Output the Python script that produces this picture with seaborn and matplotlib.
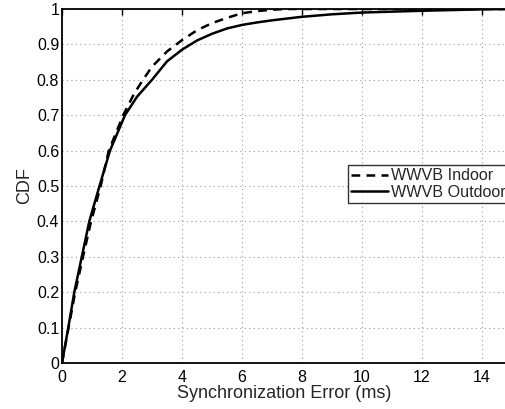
import pandas as pd
import matplotlib
matplotlib.use("Agg")
import matplotlib.pyplot as plt
import seaborn as sns

# CDF curves
indoor_x = [0, 0.22, 0.44, 0.70, 0.97, 1.29, 1.56, 2.04, 2.40, 2.70, 3.0, 3.5, 4.0, 4.5, 5.0, 5.5, 6.0, 6.5, 7.0, 7.5, 8.0, 15.0]
indoor_y = [0, 0.10, 0.20, 0.30, 0.40, 0.50, 0.60, 0.70, 0.76, 0.80, 0.837, 0.88, 0.912, 0.94, 0.96, 0.975, 0.988, 0.994, 0.998, 1.0, 1.0, 1.0]

outdoor_x = [0, 0.21, 0.41, 0.66, 0.91, 1.25, 1.60, 2.10, 2.50, 3.0, 3.5, 4.0, 4.5, 5.0, 5.5, 6.0, 6.5, 7.0, 8.0, 9.0, 10.0, 12.0, 14.0, 15.0]
outdoor_y = [0, 0.10, 0.20, 0.30, 0.40, 0.50, 0.60, 0.70, 0.752, 0.80, 0.852, 0.885, 0.911, 0.930, 0.945, 0.955, 0.962, 0.968, 0.978, 0.985, 0.990, 0.995, 0.999, 1.0]

x_ticks = [0, 2, 4, 6, 8, 10, 12, 14]
y_ticks = [0, 0.1, 0.2, 0.3, 0.4, 0.5, 0.6, 0.7, 0.8, 0.9, 1.0]
y_labels = ["0", "0.1", "0.2", "0.3", "0.4", "0.5", "0.6", "0.7", "0.8", "0.9", "1"]

sns.set_style("white")
plt.rcParams["font.family"] = ["Liberation Sans", "DejaVu Sans"]

fig = plt.figure(figsize=(5.06, 4.09), dpi=100)
ax = fig.add_axes([0.1225, 0.1125, 0.8775, 0.8655])

sns.lineplot(x=indoor_x, y=indoor_y, ax=ax, color="black", linewidth=1.8,
             linestyle=(0, (3.5, 2.5)), label="WWVB Indoor", sort=False)
sns.lineplot(x=outdoor_x, y=outdoor_y, ax=ax, color="black", linewidth=1.8,
             label="WWVB Outdoor", sort=False)
for line in ax.lines:
    line.set_solid_joinstyle("round")
    line.set_dash_joinstyle("round")

ax.set_xlim(0, 14.8)
ax.set_ylim(0, 1)
ax.set_xticks(x_ticks)
ax.set_yticks(y_ticks)
ax.set_yticklabels(y_labels)
ax.grid(True, linestyle=(0, (1, 3)), color="#999999", linewidth=0.8)
ax.tick_params(direction="in", length=4, width=1, labelsize=11.5, top=True,
               colors="black", pad=2)
ax.tick_params(axis="x", pad=5)
for side in ["left", "bottom", "top"]:
    ax.spines[side].set_color("black")
    ax.spines[side].set_linewidth(1.3)
ax.spines["right"].set_visible(False)

ax.set_xlabel("Synchronization Error (ms)", fontsize=13, labelpad=0)
ax.set_ylabel("CDF", fontsize=13, labelpad=3)

leg = ax.legend(loc="upper right", bbox_to_anchor=(1.006, (409 - 165) / 409),
                bbox_transform=fig.transFigure, fontsize=11.6, frameon=True,
                fancybox=False, handlelength=2.3, handletextpad=0.2,
                borderpad=0.2, labelspacing=0.1, borderaxespad=0)
leg.get_frame().set_edgecolor("black")
leg.get_frame().set_linewidth(1.0)

fig.savefig("out.png", dpi=100)
